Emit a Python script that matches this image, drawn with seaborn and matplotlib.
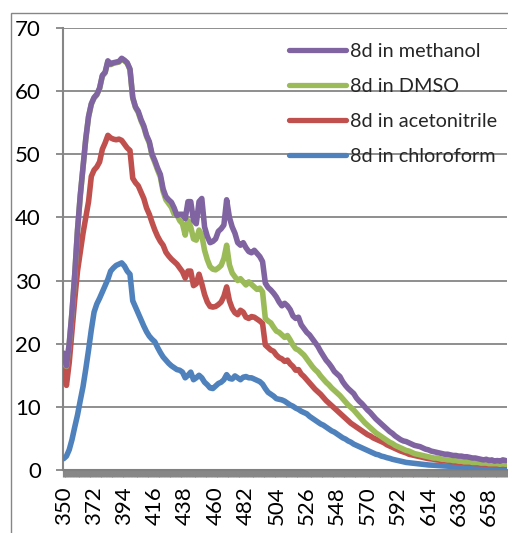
import matplotlib
matplotlib.use("Agg")
import matplotlib.pyplot as plt
import pandas as pd
import seaborn as sns
from matplotlib.ticker import FixedLocator, MultipleLocator
from matplotlib.patches import Rectangle

# Emission spectra of compound 8d, intensity sampled every 2 nm
wavelength = list(range(350, 672, 2))

methanol = [
    18.5, 16.5, 20.0, 25.0, 31.0, 38.0, 43.5, 48.0, 52.5, 56.0,
    58.0, 59.0, 59.5, 60.5, 62.5, 63.0, 64.8, 64.3, 64.5, 64.6,
    64.7, 65.2, 64.9, 64.5, 63.5, 59.0, 57.5, 56.8, 55.5, 54.5,
    53.0, 52.0, 50.0, 49.0, 47.8, 46.8, 44.5, 43.3, 42.8, 42.4,
    41.5, 40.3, 40.5, 40.5, 39.8, 42.5, 42.5, 39.5, 39.0, 42.5,
    43.0, 38.5, 37.0, 36.0, 36.2, 36.6, 37.8, 38.2, 38.8, 42.8,
    40.0, 38.5, 37.5, 36.0, 35.6, 36.0, 35.2, 34.6, 34.4, 34.8,
    34.3, 33.8, 33.0, 29.6, 28.9, 28.5, 28.0, 27.4, 26.6, 26.0,
    26.4, 26.0, 25.4, 24.4, 24.0, 24.2, 23.0, 22.4, 21.8, 21.4,
    20.8, 20.2, 19.6, 18.8, 18.1, 17.4, 16.9, 16.3, 15.6, 15.2,
    14.8, 14.0, 13.4, 12.9, 12.5, 12.1, 11.4, 10.9, 10.5, 10.0,
    9.5, 9.1, 8.6, 8.1, 7.7, 7.3, 6.9, 6.5, 6.1, 5.8,
    5.4, 5.1, 4.8, 4.6, 4.5, 4.3, 4.1, 3.9, 3.8, 3.7,
    3.5, 3.3, 3.2, 3.0, 2.9, 2.8, 2.7, 2.6, 2.5, 2.5,
    2.4, 2.3, 2.3, 2.2, 2.2, 2.1, 2.1, 2.0, 1.9, 1.9,
    1.8, 1.7, 1.6, 1.7, 1.5, 1.6, 1.4, 1.5, 1.4, 1.6,
    1.5,
]

dmso = [
    18.4, 16.4, 19.9, 24.9, 30.9, 37.9, 43.4, 47.9, 52.4, 55.9,
    57.9, 58.9, 59.4, 60.4, 62.4, 62.9, 64.7, 64.2, 64.4, 64.5,
    64.6, 65.1, 64.8, 64.4, 63.4, 58.9, 57.4, 56.6, 55.3, 54.3,
    52.8, 51.8, 49.8, 48.7, 47.5, 46.4, 44.1, 42.8, 42.2, 41.6,
    40.5, 40.4, 39.5, 39.0, 37.2, 39.5, 38.5, 36.6, 36.4, 38.0,
    37.2, 34.8, 33.3, 32.2, 31.8, 31.7, 32.0, 32.4, 33.5, 35.6,
    32.5, 31.2, 30.6, 30.0, 30.3, 29.8, 29.3, 29.8, 29.4, 29.0,
    28.6, 28.8, 28.2, 24.0, 23.6, 23.3, 22.6, 22.0, 21.8, 21.4,
    21.0, 21.3, 20.6, 19.8, 19.2, 19.0, 18.6, 18.2, 17.6, 17.0,
    16.4, 15.9, 15.5, 14.9, 14.4, 13.9, 13.5, 13.0, 12.6, 12.2,
    11.8, 11.3, 10.8, 10.3, 9.9, 9.5, 9.0, 8.5, 8.0, 7.5,
    7.1, 6.7, 6.3, 5.9, 5.6, 5.3, 5.0, 4.7, 4.4, 4.2,
    3.9, 3.7, 3.5, 3.3, 3.1, 3.0, 2.8, 2.6, 2.5, 2.4,
    2.3, 2.2, 2.1, 2.0, 1.9, 1.9, 1.8, 1.7, 1.7, 1.6,
    1.6, 1.5, 1.5, 1.4, 1.4, 1.3, 1.3, 1.3, 1.2, 1.2,
    1.2, 1.1, 1.1, 1.1, 1.0, 1.0, 1.0, 1.0, 0.9, 1.0,
    0.9,
]

acetonitrile = [
    15.8, 13.4, 17.0, 22.0, 27.0, 31.5, 34.5, 37.5, 40.0, 42.5,
    46.5, 47.5, 48.0, 48.8, 50.8, 51.8, 53.0, 52.6, 52.4, 52.3,
    52.4, 52.2, 51.6, 51.0, 50.6, 46.2, 45.5, 45.0, 44.0, 43.0,
    41.5, 40.5, 39.2, 38.0, 37.0, 36.2, 35.6, 34.5, 33.9, 33.4,
    33.0, 32.6, 32.0, 31.4, 30.4, 31.5, 31.5, 29.2, 29.5, 31.0,
    29.5, 27.8, 26.6, 25.9, 25.8, 25.9, 26.2, 26.6, 27.5, 29.0,
    26.8, 25.6, 24.9, 24.6, 25.3, 25.0, 24.2, 24.0, 24.3, 24.2,
    23.9, 23.6, 23.2, 19.8, 19.4, 19.0, 18.8, 18.2, 17.8, 17.6,
    17.2, 17.4, 16.8, 16.4, 15.8, 15.9, 15.2, 14.8, 14.3, 13.8,
    13.3, 12.8, 12.4, 12.0, 11.5, 11.0, 10.6, 10.2, 9.8, 9.4,
    9.0, 8.6, 8.2, 7.8, 7.4, 7.1, 6.8, 6.5, 6.2, 5.9,
    5.6, 5.4, 5.1, 4.9, 4.7, 4.5, 4.3, 4.0, 3.8, 3.6,
    3.4, 3.2, 3.0, 2.85, 2.7, 2.5, 2.4, 2.3, 2.2, 2.1,
    2.0, 1.9, 1.8, 1.75, 1.7, 1.6, 1.55, 1.5, 1.45, 1.4,
    1.35, 1.3, 1.25, 1.2, 1.2, 1.15, 1.1, 1.1, 1.05, 1.0,
    1.0, 0.95, 0.95, 0.9, 0.9, 0.9, 0.85, 0.85, 0.8, 0.85,
    0.8,
]

chloroform = [
    1.8, 2.2, 3.2, 4.8, 6.8, 8.7, 11.0, 13.2, 16.0, 19.0,
    22.2, 25.0, 26.3, 27.2, 28.2, 29.2, 30.2, 31.5, 32.0, 32.4,
    32.6, 32.8, 32.3, 31.5, 31.0, 26.8, 25.8, 24.8, 23.8, 22.8,
    21.9, 21.2, 20.7, 20.3, 19.4, 18.6, 17.9, 17.4, 16.9, 16.5,
    16.2, 15.9, 15.8, 15.5, 14.6, 15.0, 15.5, 14.3, 14.6, 15.0,
    14.6, 13.9, 13.5, 13.0, 12.9, 13.3, 13.7, 13.9, 14.3, 15.1,
    14.5, 14.4, 14.9, 14.6, 14.3, 14.7, 14.8, 14.6, 14.6, 14.4,
    14.2, 14.0, 13.6, 12.9, 12.3, 12.0, 11.7, 11.3, 11.2, 11.1,
    10.9, 10.6, 10.3, 10.1, 9.8, 9.6, 9.3, 9.1, 8.9, 8.5,
    8.2, 7.9, 7.6, 7.3, 7.1, 6.8, 6.5, 6.2, 6.0, 5.7,
    5.4, 5.1, 4.9, 4.6, 4.4, 4.1, 3.9, 3.7, 3.5, 3.3,
    3.1, 2.9, 2.7, 2.5, 2.4, 2.2, 2.1, 1.95, 1.85, 1.7,
    1.6, 1.5, 1.4, 1.3, 1.2, 1.15, 1.1, 1.05, 1.0, 0.95,
    0.9, 0.85, 0.8, 0.78, 0.75, 0.72, 0.7, 0.66, 0.62, 0.6,
    0.58, 0.55, 0.52, 0.5, 0.48, 0.46, 0.45, 0.43, 0.42, 0.4,
    0.4, 0.38, 0.37, 0.36, 0.35, 0.34, 0.33, 0.32, 0.31, 0.3,
    0.3,
]

series_names = ["8d in methanol", "8d in DMSO", "8d in acetonitrile", "8d in chloroform"]
series_colors = ["#8064A2", "#9BBB59", "#C0504D", "#4F81BD"]
x_tick_labels = list(range(350, 659, 22))
y_ticks = list(range(0, 71, 10))

df = pd.DataFrame({
    "wavelength": wavelength,
    series_names[0]: methanol,
    series_names[1]: dmso,
    series_names[2]: acetonitrile,
    series_names[3]: chloroform,
})

sns.set_style("white")
plt.rcParams["font.family"] = ["Lato", "DejaVu Sans"]

W, H = 508, 533
fig = plt.figure(figsize=(W / 100, H / 100), dpi=100)
ax = fig.add_axes([63 / W, 1 - 470 / H, 444 / W, 442 / H])

grey = "#868686"

# chart-area border
fig.patches.append(Rectangle((11 / W, -0.2), 1.5, 1.2 - 13 / H,
                             transform=fig.transFigure, fill=False,
                             edgecolor=grey, lw=1.0))

# draw back to front so methanol ends on top
for z, (name, color) in enumerate(reversed(list(zip(series_names, series_colors)))):
    sns.lineplot(data=df, x="wavelength", y=name, color=color, lw=4.0,
                 ax=ax, label=name, zorder=3 + z,
                 solid_joinstyle="round", solid_capstyle="round")

ax.set_xlim(349.5, 671)
ax.set_ylim(0, 70)
ax.set_xlabel("")
ax.set_ylabel("")

ax.set_yticks(y_ticks)
ax.yaxis.grid(True, color=grey, lw=1.3)
ax.xaxis.grid(False)
ax.set_axisbelow(True)

ax.xaxis.set_major_locator(FixedLocator(x_tick_labels))
ax.xaxis.set_minor_locator(MultipleLocator(2))
ax.set_xticklabels([str(v) for v in x_tick_labels], rotation=90)

for side in ("top", "right"):
    ax.spines[side].set_visible(False)
ax.spines["left"].set_color(grey)
ax.spines["left"].set_linewidth(1.5)
ax.spines["bottom"].set_color("#808080")
ax.spines["bottom"].set_linewidth(1.5)

ax.tick_params(axis="y", which="major", left=True, direction="out", length=5,
               width=1.3, color=grey, labelsize=16, pad=11, labelcolor="black")
ax.tick_params(axis="x", which="both", bottom=True, direction="out", length=5,
               width=2.3, color="#878787", labelsize=16, pad=7, labelcolor="black")

h, l = ax.get_legend_handles_labels()
order = [l.index(n) for n in series_names]
leg = ax.legend([h[i] for i in order], [l[i] for i in order],
                loc="upper left", bbox_to_anchor=(279 / W, 1 - 33 / H),
                bbox_transform=fig.transFigure, frameon=False, borderpad=0,
                handlelength=2.85, handletextpad=0.2, labelspacing=0.9,
                fontsize=14.3)
for line in leg.get_lines():
    line.set_linewidth(3.8)
    line.set_solid_capstyle("round")

fig.savefig("out.png", dpi=100)
